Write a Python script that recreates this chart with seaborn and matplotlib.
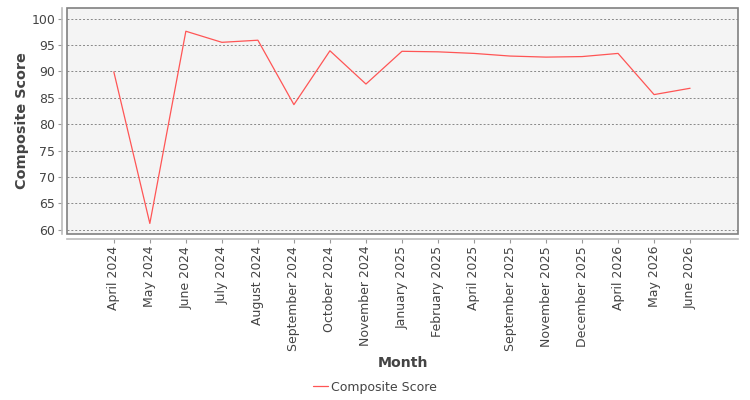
import numpy as np
import pandas as pd
import seaborn as sns
import matplotlib.pyplot as plt
from matplotlib.patches import Rectangle

months = ['April 2024', 'May 2024', 'June 2024', 'July 2024', 'August 2024',
          'September 2024', 'October 2024', 'November 2024', 'January 2025',
          'February 2025', 'April 2025', 'September 2025', 'November 2025',
          'December 2025', 'April 2026', 'May 2026', 'June 2026']
scores = [89.9, 61.2, 97.6, 95.5, 95.9, 83.7, 93.9, 87.6, 93.8,
          93.7, 93.4, 92.9, 92.7, 92.8, 93.4, 85.6, 86.8]
y_ticks = [60, 65, 70, 75, 80, 85, 90, 95, 100]

df = pd.DataFrame({'Month': months, 'Composite Score': scores})
df['pos'] = range(len(df))

sns.set_style('white')
plt.rcParams['font.family'] = ['DejaVu Sans']

fig = plt.figure(figsize=(7.5, 4), dpi=100)
ax = fig.add_axes([67 / 750, 1 - 234 / 400, 671 / 750, 226 / 400])
ax.set_facecolor('#f4f4f4')

sns.lineplot(data=df, x='pos', y='Composite Score', ax=ax, color='#ff5555',
             linewidth=0.9, label='Composite Score', legend=False)

ax.set_xlim(-1.3, len(months) - 1 + 1.33)
ax.set_ylim(59.2, 102)
ax.set_yticks(y_ticks)
ax.set_xticks(df['pos'])
ax.set_xticklabels(months)
ax.yaxis.grid(True, color='#888888', linestyle=(0, (2, 2)), linewidth=0.7)
ax.xaxis.grid(False)

for s in ax.spines.values():
    s.set_visible(False)
for s in ['left', 'bottom']:
    ax.spines[s].set_visible(True)
    ax.spines[s].set_color('#bbbbbb')
    ax.spines[s].set_linewidth(1.2)
    ax.spines[s].set_position(('outward', 3.5))
ax.add_patch(Rectangle((0, 0), 1, 1, transform=ax.transAxes, fill=False,
                       edgecolor='#808080', linewidth=1.2, clip_on=False, zorder=5))

ax.tick_params(axis='both', colors='#999999', labelcolor='#444444',
               labelsize=9, length=3, width=0.8, left=True, bottom=True, pad=2)
ax.tick_params(axis='x', labelrotation=90)

ax.set_xlabel('Month', fontsize=10.2, fontweight='bold', color='#444444', labelpad=4)
ax.set_ylabel('Composite Score', fontsize=10.4, fontweight='bold', color='#444444', labelpad=1.5)

handles, labels = ax.get_legend_handles_labels()
fig.legend(handles, labels, loc='center', bbox_to_anchor=(0.5, 1 - 387 / 400),
           frameon=False, fontsize=9, handlelength=1.2, handletextpad=0.3,
           labelcolor='#444444')

plt.savefig('out.png', dpi=100)
